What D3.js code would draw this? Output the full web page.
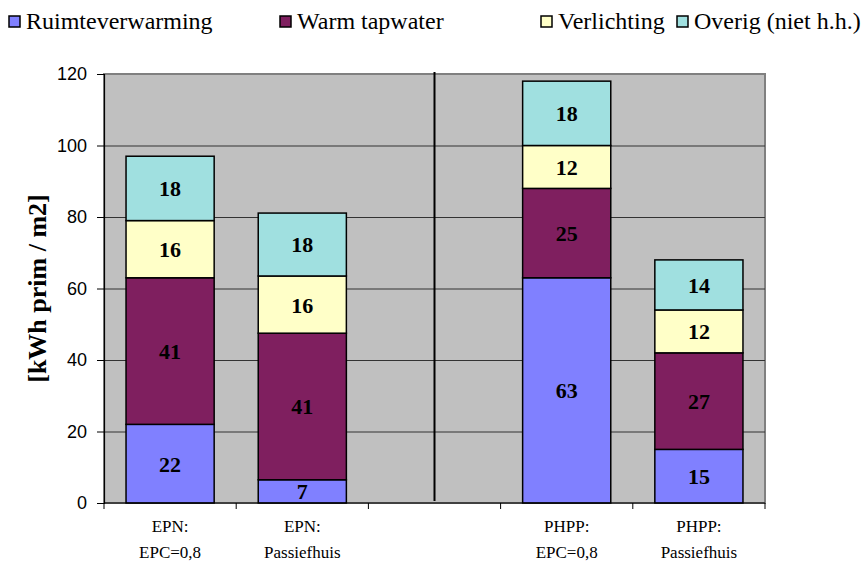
<!DOCTYPE html>
<html>
<head>
<meta charset="utf-8">
<script src="https://cdn.jsdelivr.net/npm/d3@7"></script>
<style>
  body { margin: 0; background: #fff; }
</style>
</head>
<body>
<div id="chart"></div>
<script>
// categories (empty slot in the middle holds the separator line)
const categories = ['EPN|EPC=0,8', 'EPN|Passiefhuis', 'gap', 'PHPP|EPC=0,8', 'PHPP|Passiefhuis'];
const seriesNames = ['Ruimteverwarming', 'Warm tapwater', 'Verlichting', 'Overig (niet h.h.)'];
const ruimte = [22, 6.5, null, 63, 15];
const tapwater = [41, 41, null, 25, 27];
const verlichting = [16, 16, null, 12, 12];
const overig = [18, 17.6, null, 18, 14];
const yTicks = [0, 20, 40, 60, 80, 100, 120];
const colors = ['#8080FF', '#7F1F5F', '#FFFFC8', '#A0E0E0'];

const width = 868;
const height = 568;
const margin = { top: 74, right: 103, bottom: 65, left: 104 };
const serif = '"Liberation Serif", "Times New Roman", serif';

const svg = d3.select('#chart')
  .append('svg')
  .attr('width', width)
  .attr('height', height)
  .attr('font-family', serif);

const x = d3.scaleBand().domain(d3.range(categories.length))
  .range([margin.left, width - margin.right]).paddingInner(0).paddingOuter(0);
const y = d3.scaleLinear().domain([0, 120]).range([height - margin.bottom, margin.top]);

// plot area
svg.append('rect')
  .attr('x', margin.left).attr('y', margin.top)
  .attr('width', width - margin.left - margin.right)
  .attr('height', y(0) - margin.top)
  .attr('fill', '#C0C0C0')
  .attr('stroke', '#808080').attr('stroke-width', 2);

// grid lines
svg.append('g').selectAll('line')
  .data(yTicks.filter(d => d > 0 && d < 120))
  .enter().append('line')
  .attr('x1', margin.left).attr('x2', width - margin.right)
  .attr('y1', d => y(d) + 0.5).attr('y2', d => y(d) + 0.5)
  .attr('stroke', '#333').attr('stroke-width', 1);

// separator line between EPN and PHPP
svg.append('line')
  .attr('x1', x(2) + x.bandwidth() / 2).attr('x2', x(2) + x.bandwidth() / 2)
  .attr('y1', margin.top - 2).attr('y2', y(0) - 2)
  .attr('stroke', '#000').attr('stroke-width', 2);

// stacked bars
const rows = categories.map((c, i) => ({
  i, v0: ruimte[i], v1: tapwater[i], v2: verlichting[i], v3: overig[i]
})).filter(d => d.v0 != null);
const stack = d3.stack().keys(['v0', 'v1', 'v2', 'v3'])(rows);
const barW = x.bandwidth() * 2 / 3;

stack.forEach((layer, k) => {
  const g = svg.append('g');
  g.selectAll('rect').data(layer).enter().append('rect')
    .attr('x', d => x(d.data.i) + (x.bandwidth() - barW) / 2)
    .attr('y', d => y(d[1]))
    .attr('width', barW)
    .attr('height', d => y(d[0]) - y(d[1]))
    .attr('fill', colors[k])
    .attr('stroke', '#000').attr('stroke-width', 1.5);
  g.selectAll('text').data(layer).enter().append('text')
    .attr('x', d => x(d.data.i) + x.bandwidth() / 2)
    .attr('y', d => (y(d[0]) + y(d[1])) / 2)
    .attr('dy', '0.36em')
    .attr('text-anchor', 'middle')
    .attr('font-family', serif)
    .attr('font-weight', 'bold')
    .attr('font-size', 22)
    .text(d => Math.round(d[1] - d[0]));
});

// y axis
const yAxis = d3.axisLeft(y).tickValues(yTicks).tickSize(7).tickPadding(10);
const yg = svg.append('g').attr('transform', `translate(${margin.left},0)`).call(yAxis);
yg.select('.domain').attr('stroke', '#000').attr('stroke-width', 1.2);
yg.selectAll('.tick line').attr('stroke', '#000');
yg.selectAll('.tick text')
  .attr('font-family', '"Liberation Sans", Arial, sans-serif')
  .attr('font-size', 18).attr('fill', '#000');

// x axis: tick marks at category boundaries
const bounds = d3.range(categories.length + 1).map(i => margin.left + i * x.step());
svg.append('line')
  .attr('x1', margin.left).attr('x2', width - margin.right)
  .attr('y1', y(0)).attr('y2', y(0))
  .attr('stroke', '#000').attr('stroke-width', 1.2);
svg.append('g').selectAll('line').data(bounds).enter().append('line')
  .attr('x1', d => d).attr('x2', d => d)
  .attr('y1', y(0)).attr('y2', y(0) + 6)
  .attr('stroke', '#000');

const xl = svg.append('g').selectAll('text')
  .data(categories.map((c, i) => ({ c, i })).filter(d => d.c !== 'gap'))
  .enter().append('text')
  .attr('text-anchor', 'middle')
  .attr('font-family', serif)
  .attr('font-size', 17)
  .attr('fill', '#000');
xl.each(function(d) {
  const parts = d.c.split('|');
  const t = d3.select(this);
  parts.forEach((p, j) => {
    t.append('tspan')
      .attr('x', x(d.i) + x.bandwidth() / 2)
      .attr('y', 532 + j * 26)
      .text(j === 0 ? p + ':' : p);
  });
});

// y axis title
svg.append('text')
  .attr('transform', `translate(46,${(margin.top + y(0)) / 2}) rotate(-90)`)
  .attr('text-anchor', 'middle')
  .attr('font-family', serif)
  .attr('font-weight', 'bold')
  .attr('font-size', 26)
  .text('[kWh prim / m2]');

// legend
const legendX = [9, 280, 541, 677];
const lg = svg.append('g').selectAll('g').data(seriesNames).enter().append('g')
  .attr('transform', (d, i) => `translate(${legendX[i]},16)`);
lg.append('rect')
  .attr('width', 11).attr('height', 11)
  .attr('fill', (d, i) => colors[i])
  .attr('stroke', '#000').attr('stroke-width', 1.5);
lg.append('text')
  .attr('x', 17).attr('y', 13)
  .attr('font-family', serif)
  .attr('font-size', 24)
  .text(d => d);
</script>
</body>
</html>
